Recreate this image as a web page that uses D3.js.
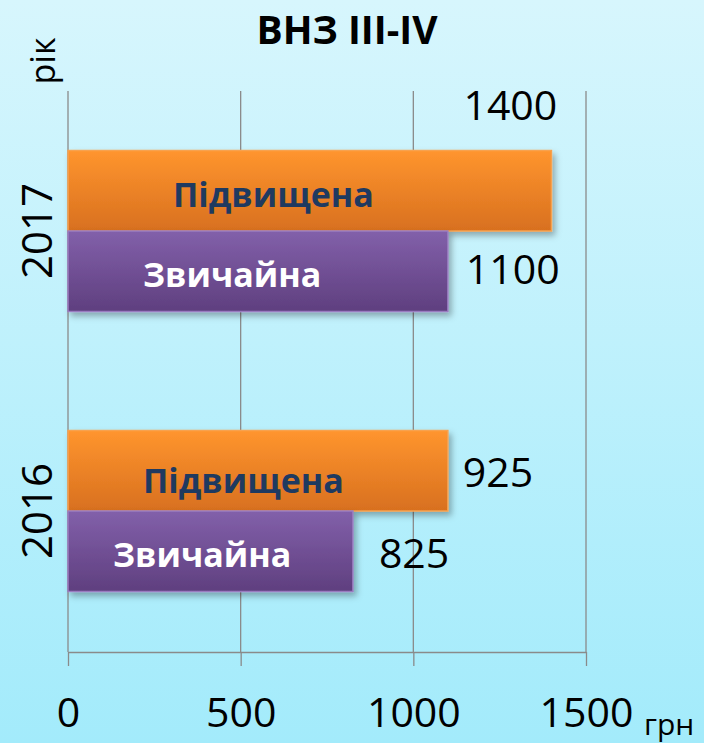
<!DOCTYPE html>
<html>
<head>
<meta charset="utf-8">
<script src="https://cdn.jsdelivr.net/npm/d3@7"></script>
<style>
  html, body { margin: 0; padding: 0; }
  body { width: 704px; height: 743px; overflow: hidden; }
  svg { display: block; font-family: 'Open Sans', sans-serif; }
</style>
</head>
<body>
<svg id="chart" width="704" height="743"></svg>
<script>
// data
const years = ['2017', '2016']
const series = ['Підвищена', 'Звичайна']
// bar lengths as drawn (грн)
const raised = [1400, 1100]
const ordinary = [1100, 825]
// value labels as printed
const raisedLabels = ['1400', '925']
const ordinaryLabels = ['1100', '825']
const xTicks = [0, 500, 1000, 1500]

const title = 'ВНЗ III-IV'
const yName = 'рік'
const xName = 'грн'

const rows = []
years.forEach((yr, i) => {
  rows.push({ year: yr, name: series[0], value: raised[i], label: raisedLabels[i] })
  rows.push({ year: yr, name: series[1], value: ordinary[i], label: ordinaryLabels[i] })
})

const svg = d3.select('#chart')
const defs = svg.append('defs')

const bg = defs.append('linearGradient').attr('id', 'bg')
  .attr('x1', 0).attr('y1', 0).attr('x2', 0).attr('y2', 1)
bg.append('stop').attr('offset', '0%').attr('stop-color', '#d7f6fd')
bg.append('stop').attr('offset', '100%').attr('stop-color', '#a3ebfb')

const fills = {
  'Підвищена': ['#ff952e', '#d8701f', '#f7a250'],
  'Звичайна': ['#8260aa', '#5f3f7f', '#9a7cc0'],
}
Object.keys(fills).forEach((k, i) => {
  const g = defs.append('linearGradient').attr('id', 'bar' + i)
    .attr('x1', 0).attr('y1', 0).attr('x2', 0).attr('y2', 1)
  g.append('stop').attr('offset', '0%').attr('stop-color', fills[k][0])
  g.append('stop').attr('offset', '100%').attr('stop-color', fills[k][1])
})

const shadow = defs.append('filter').attr('id', 'shadow')
  .attr('x', '-10%').attr('y', '-20%').attr('width', '130%').attr('height', '150%')
shadow.append('feDropShadow')
  .attr('dx', 3).attr('dy', 4).attr('stdDeviation', 3)
  .attr('flood-color', '#000').attr('flood-opacity', 0.3)

svg.append('rect').attr('width', 704).attr('height', 743).attr('fill', 'url(#bg)')

const x = d3.scaleLinear().domain([0, 1500]).range([68, 586])
const y = d3.scaleBand().domain(years).range([91, 651]).paddingInner(0.425).paddingOuter(0.2125)
const ySub = d3.scaleBand().domain(series).range([0, y.bandwidth()])

// grid
svg.append('g').selectAll('line')
  .data(xTicks)
  .enter().append('line')
    .attr('x1', d => x(d)).attr('x2', d => x(d))
    .attr('y1', 91).attr('y2', 652)
    .attr('stroke', '#8a8a8a').attr('stroke-width', 1.3)

const axis = svg.append('g')
  .attr('transform', 'translate(0,652)')
  .call(d3.axisBottom(x).tickValues(xTicks).tickSize(14).tickSizeOuter(0).tickFormat(d3.format('d')))
axis.select('.domain').attr('stroke', '#8a8a8a').attr('stroke-width', 1.3)
axis.selectAll('.tick line').attr('stroke', '#8a8a8a').attr('stroke-width', 1.3)
axis.selectAll('.tick text')
  .attr('y', 75).attr('dy', null)
  .attr('fill', '#000')
  .style('font-size', '41px')
  .style('font-family', 'Open Sans, sans-serif')

// bars
svg.append('g').selectAll('rect')
  .data(rows)
  .enter().append('rect')
    .attr('x', x(0))
    .attr('y', d => y(d.year) + ySub(d.name))
    .attr('width', d => x(d.value) - x(0))
    .attr('height', ySub.bandwidth())
    .attr('fill', d => 'url(#bar' + series.indexOf(d.name) + ')')
    .attr('stroke', d => fills[d.name][2])
    .attr('stroke-width', 1.5)
    .attr('filter', 'url(#shadow)')

// names inside bars (hand placed in the original)
const nameShift = [[105, 16], [75, 15.5], [75, 22], [45, 15.5]]
svg.append('g').selectAll('text')
  .data(rows)
  .enter().append('text')
    .attr('x', (d, i) => x(0) + nameShift[i][0])
    .attr('y', (d, i) => y(d.year) + ySub(d.name) + ySub.bandwidth() / 2 + nameShift[i][1])
    .attr('fill', d => d.name === series[0] ? '#1f3a60' : '#fff')
    .style('font-weight', 'bold')
    .style('font-size', '34px')
    .text(d => d.name)

// value labels
const valueShift = [[-88, -71], [18, 12.5], [15, 16], [26, 16.5]]
svg.append('g').selectAll('text')
  .data(rows)
  .enter().append('text')
    .attr('x', (d, i) => x(d.value) + valueShift[i][0])
    .attr('y', (d, i) => y(d.year) + ySub(d.name) + ySub.bandwidth() / 2 + valueShift[i][1])
    .attr('fill', '#000')
    .style('font-size', '41px')
    .text(d => d.label)

// year labels
svg.append('g').selectAll('text')
  .data(years)
  .enter().append('text')
    .attr('transform', d => `translate(52,${y(d) + y.bandwidth() / 2}) rotate(-90)`)
    .attr('text-anchor', 'middle')
    .attr('fill', '#000')
    .style('font-size', '42px')
    .text(d => d)

svg.append('text')
  .attr('x', 347).attr('y', 44)
  .attr('text-anchor', 'middle')
  .style('font-weight', 'bold')
  .style('font-size', '39px')
  .text(title)

svg.append('text')
  .attr('transform', 'translate(55,61) rotate(-90)')
  .attr('text-anchor', 'middle')
  .style('font-size', '34px')
  .text(yName)

svg.append('text')
  .attr('x', 644).attr('y', 735)
  .style('font-size', '30px')
  .text(xName)
</script>
</body>
</html>
